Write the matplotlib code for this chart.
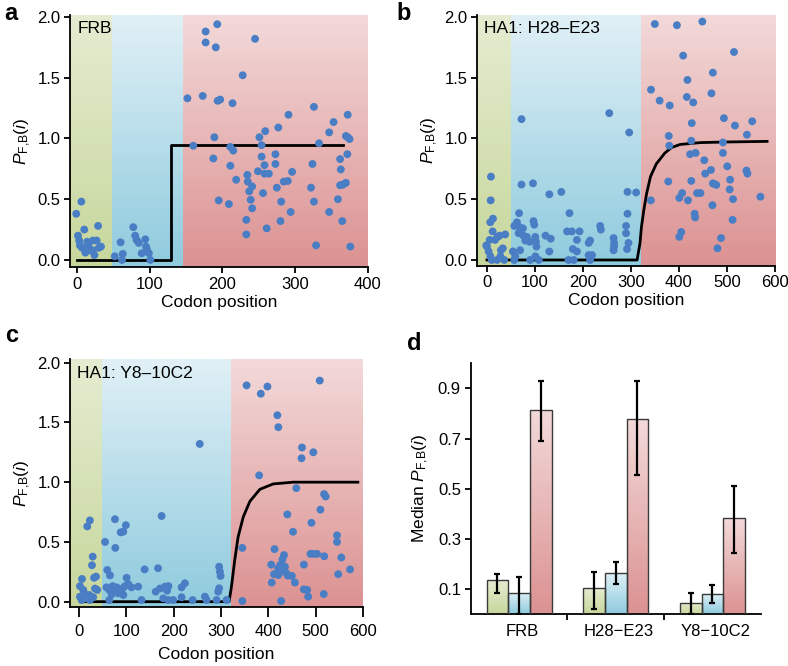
import numpy as np
import matplotlib
matplotlib.use('Agg')
import matplotlib.pyplot as plt
from matplotlib.colors import LinearSegmentedColormap

plt.rcParams['font.family'] = ['Liberation Sans', 'DejaVu Sans']
plt.rcParams['mathtext.fontset'] = 'custom'
plt.rcParams['mathtext.rm'] = 'Liberation Sans'
plt.rcParams['mathtext.it'] = 'Liberation Sans:italic'

# ---- panel a: FRB ----
a_x = [-1, 6, 1.4, 3, 4, 10, 7, 11.5, 15.6, 22, 24, 29, 27, 30, 33, 22, 14, 18,
       52, 60, 62, 63, 77.5, 80, 82, 85, 94, 89, 96, 99, 101, 95,
       152, 160, 173, 177, 177, 193, 191, 193.6, 197, 189, 187.6, 195, 214, 211, 215, 211, 209, 219,
       228, 245, 234.4, 235, 237, 241, 239, 241, 233, 233, 251, 254, 254, 259, 258, 249, 258, 264,
       256, 261, 277, 273, 273, 275, 281, 280, 284.5, 290, 291, 296, 294, 326, 324, 322, 326, 329,
       333, 347, 347, 353, 362, 363, 359, 362, 366, 365, 370, 372, 372.5, 370, 372.5, 375, 376]
a_y = [0.38, 0.48, 0.20, 0.16, 0.12, 0.25, 0.10, 0.06, 0.12, 0.08, 0.04, 0.28, 0.16, 0.10, 0.11, 0.16, 0.15, 0.08,
       0.03, 0.145, 0.0, 0.05, 0.27, 0.20, 0.165, 0.14, 0.17, 0.055, 0.09, 0.055, 0.0, 0.11,
       1.33, 0.94, 1.35, 1.88, 1.79, 1.94, 1.75, 1.31, 1.32, 1.01, 0.835, 0.49, 1.29, 0.93, 0.90, 0.775, 0.46, 0.66,
       1.52, 1.82, 0.70, 0.645, 0.565, 0.605, 0.495, 0.425, 0.33, 0.21, 1.01, 0.945, 0.85, 1.06, 0.78, 0.73, 0.71, 0.71,
       0.55, 0.26, 1.09, 0.87, 0.79, 0.595, 0.48, 0.32, 0.645, 0.65, 1.195, 0.725, 0.395, 1.26, 0.79, 0.595, 0.48, 0.12,
       0.96, 1.05, 0.395, 1.135, 0.83, 0.745, 0.50, 0.615, 0.62, 0.32, 0.635, 0.87, 1.195, 1.02, 1.01, 0.995, 0.11]
a_fit_x = [0, 129, 129, 366]
a_fit_y = [0, 0, 0.95, 0.95]
a_regions = [-10, 48, 146, 401]

# ---- panel b: HA1 H28-E23 ----
b_x = [8.3, 7.7, 12.5, 6.9, 11.8, 5.6, 0, 3.5, 7, 10, 17, 22, 26, 38, 29, 33, 28, 36, -1.4, 21,
       72, 96, 67, 62.5, 57, 68, 75, 66, 76, 83, 80, 89, 97, 98.6, 100.7, 102, 103, 54, 59, 57, 69, 90, 101, 108,
       130, 155, 122, 133, 130, 172, 167, 177, 193, 187.5, 179, 187.5, 170, 181, 212, 215, 212, 219, 215,
       236, 237.5, 264, 265, 264, 265, 293, 311, 293, 290, 290, 295, 292, 255, 296.5,
       341.7, 342, 350, 360, 381, 379, 380, 378, 396, 409, 418, 416.7, 430, 401, 407, 419, 405, 401,
       427, 426, 423.6, 435, 426, 433, 434, 438, 449, 453, 445, 455, 468, 471, 467, 471, 474, 478, 470,
       480.5, 488, 492, 492, 494, 501, 506, 507, 513, 512, 515, 517, 542, 541, 543, 553, 570, 72]
b_y = [0.685, 0.49, 0.34, 0.31, 0.235, 0.165, 0.11, 0.07, 0.03, 0.0, 0.165, 0.19, 0.2, 0.21, 0.08, 0.096, 0.03, 0.0, 0.12, 0.0,
       0.62, 0.63, 0.385, 0.31, 0.28, 0.27, 0.26, 0.22, 0.2, 0.19, 0.16, 0.15, 0.32, 0.29, 0.19, 0.15, 0.11, 0.07, 0.03, 0.0, 0.08, 0.0, 0.03, 0.0,
       0.54, 0.56, 0.2, 0.175, 0.07, 0.385, 0.235, 0.235, 0.235, 0.165, 0.09, 0.07, 0.0, 0.0, 0.14, 0.16, 0.04, 0.04, 0.0,
       0.28, 0.25, 0.18, 0.14, 0.08, 0.11, 0.56, 0.555, 0.38, 0.28, 0.22, 0.14, 0.09, 1.207, 1.048,
       0.49, 1.40, 1.94, 1.31, 1.27, 1.02, 0.94, 0.645, 1.93, 1.68, 1.48, 1.34, 1.295, 0.51, 0.55, 0.49, 0.23, 0.19,
       1.125, 0.98, 0.87, 0.88, 0.65, 0.38, 0.35, 0.55, 1.96, 0.82, 0.55, 0.71, 1.37, 1.54, 0.74, 0.63, 0.625, 0.617, 0.45,
       0.096, 0.18, 0.966, 0.88, 1.166, 0.77, 0.58, 0.66, 0.5, 0.33, 1.71, 1.105, 1.03, 0.735, 0.71, 1.14, 0.52, 1.158]
b_fit_x = [0, 313, 319, 322, 327, 333, 341, 353, 371, 385, 403, 445, 500, 584]
b_fit_y = [0, 0, 0.137, 0.27, 0.41, 0.55, 0.686, 0.79, 0.88, 0.925, 0.95, 0.965, 0.97, 0.975]
b_regions = [-21, 50, 321, 601]

# ---- panel c: HA1 Y8-10C2 ----
c_x = [23, 17.5, 76, 99, 93.6, 88, 174.5, 55, 76.7, 29, 27.4, 6.3, 36, 31.7, 59.8, 65.4, 138.6, 167, 100.6,
       2, 9, 12.7, 2, 5.6, 16, 23, 33.8, 38.7, 30, 21.8, 58, 64, 71, 76, 79.5, 85, 92, 97, 104, 111, 125,
       69, 83, 93.6, 64, 132, 162, 171, 181.5, 189, 186, 178, 188.5, 199, 216.7, 223.7, 216.7, 240, 266, 269.5,
       296, 297.6, 299, 296, 294, 290.6, 311.7, 255,
       354, 384, 398, 508.5, 419, 421, 380.5, 471, 470, 495, 459, 517.7, 521, 510, 440, 491, 452, 345, 413,
       545, 545, 489, 496, 503, 518, 554, 433, 429.8, 406, 425, 435, 420.6, 427.6, 437, 412, 441, 449.6, 475,
       572.5, 547.5, 456, 407, 475, 482, 484, 517, 427, 345, 421]
c_y = [0.68, 0.63, 0.69, 0.64, 0.586, 0.58, 0.717, 0.50, 0.45, 0.377, 0.305, 0.19, 0.21, 0.20, 0.265, 0.22, 0.27, 0.28, 0.2,
       0.13, 0.098, 0.064, 0.042, 0.014, 0.028, 0.014, 0.11, 0.098, 0.037, 0.056, 0.12, 0.098, 0.13, 0.10, 0.12, 0.098, 0.11, 0.13, 0.148, 0.12, 0.126,
       0.062, 0.07, 0.056, 0.014, 0.014, 0.084, 0.11, 0.126, 0.13, 0.092, 0.028, 0.014, 0.014, 0.12, 0.154, 0.037, 0.014, 0.042, 0.014,
       0.293, 0.25, 0.215, 0.112, 0.084, 0.014, 0.014, 1.32,
       1.81, 1.74, 1.80, 1.85, 1.56, 1.46, 1.057, 1.29, 1.20, 1.25, 0.95, 0.90, 0.88, 0.77, 0.73, 0.66, 0.585, 0.45, 0.44,
       0.555, 0.50, 0.40, 0.40, 0.40, 0.38, 0.37, 0.39, 0.354, 0.31, 0.307, 0.293, 0.28, 0.265, 0.243, 0.23, 0.218, 0.215, 0.31,
       0.27, 0.23, 0.16, 0.16, 0.103, 0.098, 0.042, 0.064, 0.006, 0.006, 0.223]
c_fit_x = [3, 317, 322, 329, 336, 347, 361, 382, 410, 452, 589]
c_fit_y = [0, 0, 0.125, 0.35, 0.54, 0.71, 0.84, 0.94, 0.985, 1.0, 1.0]
c_regions = [-19, 48.5, 322, 601]

# ---- panel d: medians ----
groups = ['FRB', 'H28\u2212E23', 'Y8\u221210C2']
med_green = [0.135, 0.105, 0.045]
med_blue = [0.085, 0.165, 0.082]
med_red = [0.815, 0.78, 0.385]
lo_green = [0.085, 0.02, 0.0]
hi_green = [0.16, 0.17, 0.085]
lo_blue = [0.0, 0.12, 0.045]
hi_blue = [0.15, 0.21, 0.115]
lo_red = [0.69, 0.555, 0.245]
hi_red = [0.93, 0.93, 0.51]

# colours (top, bottom) for gradient fills
region_cols = [('#e5ecd1', '#c7d79c'), ('#e0f0f6', '#8fcbde'), ('#f3d9d9', '#dc9292')]
dot_col = '#4a7ec4'
FS = 12.5

W, H = 788, 666
fig = plt.figure(figsize=(W / 100, H / 100), dpi=100)


def grad(ax, x0, x1, y0, y1, top, bot, clip=None, z=0):
    cmap = LinearSegmentedColormap.from_list('g', [bot, top])
    im = ax.imshow(np.linspace(0, 1, 100).reshape(-1, 1), cmap=cmap, origin='lower',
                   extent=[x0, x1, y0, y1], aspect='auto', zorder=z, interpolation='bilinear')
    if clip is not None:
        im.set_clip_path(clip)
    return im


def style(ax, xlen=4, xpad=3):
    for s in ['top', 'right']:
        ax.spines[s].set_visible(False)
    for s in ['left', 'bottom']:
        ax.spines[s].set_linewidth(1.3)
    ax.tick_params(direction='out', length=4, width=1.3, labelsize=12, pad=3)
    ax.tick_params(axis='x', length=xlen, pad=xpad)


def scatter_panel(rect, xs, ys, fx, fy, regions, xlim, ylim, xticks, label, letter, lpos,
                  xlen=4, xpad=3, lpad=2):
    ax = fig.add_axes(rect)
    for k in range(3):
        grad(ax, regions[k], regions[k + 1], ylim[0], ylim[1], *region_cols[k])
    ax.plot(fx, fy, color='black', lw=2, zorder=2)
    ax.scatter(xs, ys, s=32, color=dot_col, edgecolors='none', zorder=3)
    ax.set_xlim(*xlim)
    ax.set_ylim(*ylim)
    ax.set_xticks(xticks)
    ax.set_yticks([0, 0.5, 1.0, 1.5, 2.0])
    ax.set_yticklabels(['0.0', '0.5', '1.0', '1.5', '2.0'])
    style(ax, xlen, xpad)
    ax.set_xlabel('Codon position', fontsize=FS, labelpad=lpad)
    ax.set_ylabel(r'$P_{\mathrm{F{,}B}}(i)$', fontsize=FS, labelpad=3)
    ax.text(0.025, 0.975, label, transform=ax.transAxes, ha='left', va='top', fontsize=FS, zorder=4)
    fig.text(lpos[0] / W, 1 - lpos[1] / H, letter, fontsize=17, fontweight='bold', ha='left', va='top')
    return ax


scatter_panel([70 / W, 1 - 267 / H, 298 / W, 252 / H], a_x, a_y, a_fit_x, a_fit_y, a_regions,
              (-9.6, 400.4), (-0.058, 2.016), [0, 100, 200, 300, 400], 'FRB', 'a', (4, 2))
scatter_panel([477 / W, 1 - 265.7 / H, 298 / W, 250.7 / H], b_x, b_y, b_fit_x, b_fit_y, b_regions,
              (-20.8, 600.5), (-0.047, 2.014), [0, 100, 200, 300, 400, 500, 600], 'HA1: H28\u2013E23', 'b', (396, 2))
scatter_panel([70 / W, 1 - 607.3 / H, 293.3 / W, 248 / H], c_x, c_y, c_fit_x, c_fit_y, c_regions,
              (-19, 600.5), (-0.047, 2.028), [0, 100, 200, 300, 400, 500, 600], 'HA1: Y8\u201310C2', 'c', (5, 324),
              xlen=7, xpad=5, lpad=6)

# ---- bar panel ----
axd = fig.add_axes([470.7 / W, 1 - 614.3 / H, 290 / W, 251 / H])
bw = 0.224
xc = np.arange(len(groups))
sets = [(med_green, lo_green, hi_green, -bw), (med_blue, lo_blue, hi_blue, 0), (med_red, lo_red, hi_red, bw)]
for k, (m, lo, hi, off) in enumerate(sets):
    bars = axd.bar(xc + off, m, width=bw, facecolor='none', edgecolor='#3a3a3a', linewidth=1.0, zorder=3)
    for b in bars:
        x0 = b.get_x()
        grad(axd, x0, x0 + bw, 0, b.get_height(), *region_cols[k], clip=b, z=2)
    m = np.array(m)
    yerr = [m - np.array(lo), np.array(hi) - m]
    axd.errorbar(xc + off, m, yerr=yerr, fmt='none', ecolor='black', elinewidth=1.6, capsize=2.5,
                 capthick=1.6, zorder=4)
axd.set_xlim(-0.5, 2.5)
axd.set_ylim(0, 1.0)
axd.set_yticks([0.1, 0.3, 0.5, 0.7, 0.9])
axd.set_xticks(xc + 0.03)
axd.set_xticklabels(groups)
axd.set_xticks([0.5, 1.5], minor=True)
style(axd)
axd.tick_params(axis='x', which='major', length=0, pad=7)
axd.tick_params(axis='x', which='minor', length=4, width=1.3, direction='out')
axd.set_ylabel(r'Median $P_{\mathrm{F{,}B}}(i)$', fontsize=FS, labelpad=5)
fig.text(407 / W, 1 - 332 / H, 'd', fontsize=17, fontweight='bold', ha='left', va='top')

fig.savefig('out.png', dpi=100)
